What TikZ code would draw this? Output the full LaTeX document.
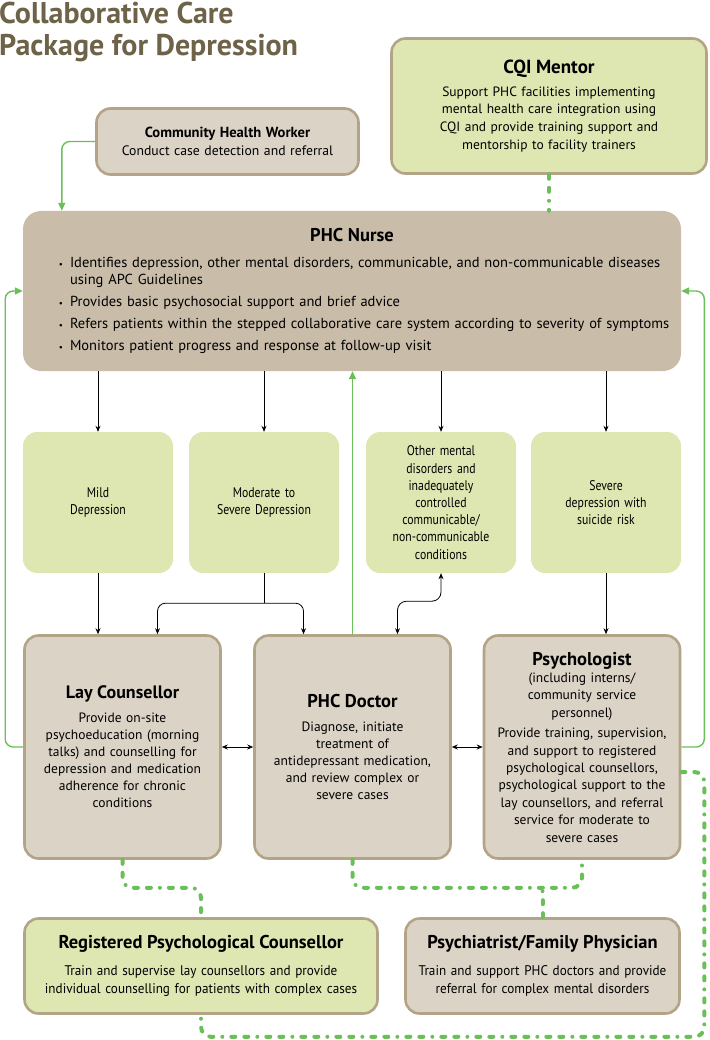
\documentclass[tikz,border=0pt]{standalone}
\usepackage{fontspec}
\setmainfont{PT Sans}
\newfontfamily\narrowfont[FakeStretch=0.84]{PT Sans}
\newfontfamily\semifont[FakeStretch=0.94]{PT Sans}
\usepackage{enumitem}
\usetikzlibrary{arrows.meta}

\definecolor{titlebrown}{HTML}{6E6249}
\definecolor{nursefill}{HTML}{C9BDA9}
\definecolor{tanfill}{HTML}{DCD3C7}
\definecolor{tanline}{HTML}{B3A488}
\definecolor{greenfill}{HTML}{DEE7B2}
\definecolor{linkgreen}{HTML}{6BBF59}

\tikzset{
  tanbox/.style={draw=tanline, line width=2.6pt, fill=tanfill, rounded corners=14pt, align=center, inner sep=3pt},
  mentorbox/.style={tanbox, fill=greenfill},
  nursebox/.style={fill=nursefill, rounded corners=18pt, align=left, inner sep=0pt},
  levelbox/.style={fill=greenfill, rounded corners=14pt, align=center, inner sep=0pt,
    minimum width=150pt, minimum height=141pt, text width=140pt,
    font=\narrowfont\fontsize{14}{17.2}\selectfont},
  flow/.style={-{Stealth[length=6pt,width=5pt]}, line width=0.8pt, rounded corners=8pt},
  twoway/.style={{Stealth[length=6pt,width=5pt]}-{Stealth[length=6pt,width=5pt]}, line width=0.8pt, rounded corners=9pt},
  feedback/.style={-{Triangle[length=8pt,width=7pt]}, draw=linkgreen, line width=1.4pt, rounded corners=8pt},
  mentorlink/.style={draw=linkgreen, line width=4pt, line cap=round,
    dash pattern=on 4pt off 9pt on 4pt off 9pt on 0pt off 9pt, rounded corners=10pt}
}

\newcommand{\boxhead}[2]{{\normalfont\bfseries\fontsize{#1}{#1}\selectfont #2}}

\begin{document}
\begin{tikzpicture}[x=1pt,y=-1pt]
  \useasboundingbox (0,0) rectangle (709,1040);

  % Title
  \node[anchor=north west, inner sep=0pt, align=left, text=titlebrown,
        font=\bfseries\fontsize{30}{32}\selectfont] (title) at (-1,1.5)
       {Collaborative Care\\Package for Depression};

  % Top row
  \node[tanbox, minimum width=262pt, minimum height=66pt, text width=255pt,
        font=\fontsize{13.7}{17.5}\selectfont] (chw) at (227.5,141.5)
       {\boxhead{14.6}{Community Health Worker}\\Conduct case detection and referral};
  \node[mentorbox, minimum width=315pt, minimum height=135pt, text width=300pt,
        font=\fontsize{13.5}{17.6}\selectfont] (cqi) at (549,106)
       {\boxhead{19}{CQI Mentor}\\[5pt]Support PHC facilities implementing\\mental health care integration using\\CQI and provide training support and\\mentorship to facility trainers};

  % PHC Nurse
  \node[nursebox, minimum width=658pt, minimum height=160pt, text width=640pt,
        font=\fontsize{14.5}{17}\selectfont] (nurse) at (352,291)
       {\centerline{\boxhead{18.5}{PHC Nurse}}\vspace{9pt}
        \begin{itemize}[leftmargin=38pt, labelsep=7pt, itemsep=5pt, topsep=0pt, parsep=0pt, partopsep=0pt, label={\small\textbullet}]
          \item Identifies depression, other mental disorders, communicable, and non-communicable diseases using APC Guidelines
          \item Provides basic psychosocial support and brief advice
          \item Refers patients within the stepped collaborative care system according to severity of symptoms
          \item Monitors patient progress and response at follow-up visit
        \end{itemize}};

  % Severity levels
  \node[levelbox] (mild) at (98,502.5) {Mild\\Depression};
  \node[levelbox] (moderate) at (264,502.5) {Moderate to\\Severe Depression};
  \node[levelbox] (other) at (441,502.5) {Other mental\\disorders and\\inadequately\\controlled\\communicable/\\non-communicable\\conditions};
  \node[levelbox] (severe) at (606,502.5) {Severe\\depression with\\suicide risk};

  % Care providers
  \node[tanbox, minimum width=196pt, minimum height=223pt, text width=190pt,
        font=\fontsize{13.5}{17}\selectfont] (lay) at (122.5,747)
       {\boxhead{18}{Lay Counsellor}\\[7pt]Provide on-site\\psychoeducation (morning\\talks) and counselling for\\depression and medication\\adherence for chronic\\conditions};
  \node[tanbox, minimum width=196pt, minimum height=223pt, text width=190pt,
        font=\fontsize{13.5}{17}\selectfont] (doctor) at (352.5,747)
       {\boxhead{18.5}{PHC Doctor}\\[7pt]Diagnose, initiate\\treatment of\\antidepressant medication,\\and review complex or\\severe cases};
  \node[tanbox, minimum width=195pt, minimum height=223pt, text width=190pt,
        font=\fontsize{13.5}{17.4}\selectfont] (psych) at (582,747)
       {\boxhead{18.5}{Psychologist}\\(including interns/\\community service\\personnel)\\[3pt]Provide training, supervision,\\and support to registered\\psychological counsellors,\\psychological support to the\\lay counsellors, and referral\\service for moderate to\\severe cases};

  % Specialists
  \node[mentorbox, minimum width=353pt, minimum height=95pt, text width=345pt,
        font=\semifont\fontsize{14}{18}\selectfont] (registered) at (201,966)
       {\boxhead{18.5}{Registered Psychological Counsellor}\\[9pt]Train and supervise lay counsellors and provide\\individual counselling for patients with complex cases};
  \node[tanbox, minimum width=274pt, minimum height=95pt, text width=268pt,
        font=\semifont\fontsize{14}{18}\selectfont] (psychiatrist) at (542.5,966)
       {\boxhead{18.5}{Psychiatrist/Family Physician}\\[9pt]Train and support PHC doctors and provide\\referral for complex mental disorders};

  % Referral arrows
  \draw[feedback] (chw.west) -| ([xshift=39pt]nurse.north west);
  \draw[flow] (nurse.south -| mild.north) -- (mild.north);
  \draw[flow] (nurse.south -| moderate.north) -- (moderate.north);
  \draw[flow] (nurse.south -| other.north) -- (other.north);
  \draw[flow] (nurse.south -| severe.north) -- (severe.north);
  \draw[flow] (mild.south) -- (mild.south |- lay.north);
  \draw[line width=0.8pt] (moderate.south) -- ++(0,30) coordinate (split);
  \draw[flow] (split) -| ([xshift=35pt]lay.north);
  \draw[flow] (split) -| ([xshift=-49pt]doctor.north);
  \draw[twoway] (other.south) -- ++(0,28) -| ([xshift=45pt]doctor.north);
  \draw[flow] (severe.south) -- (severe.south |- psych.north);
  \draw[twoway] (lay.east) -- (doctor.west);
  \draw[twoway] (doctor.east) -- (psych.west);

  % Feedback to nurse
  \draw[feedback] (doctor.north) -- (doctor.north |- nurse.south);
  \draw[feedback] (lay.west) -- ++(-18,0) |- (nurse.west);
  \draw[feedback] (psych.east) -- ++(23,0) |- (nurse.east);

  % Supervision links
  \draw[mentorlink] (cqi.south) -- (cqi.south |- nurse.north);
  \draw[mentorlink] (lay.south) -- ++(0,28) -| (registered.north);
  \draw[mentorlink] (doctor.south) -- ++(0,28) -| (psych.south);
  \draw[mentorlink] (psychiatrist.north) -- ++(0,-27);
  \draw[mentorlink] ([yshift=-25pt]psych.east) -- ++(23,0) |- ([yshift=-22pt]registered.south) -- (registered.south);
\end{tikzpicture}
\end{document}
